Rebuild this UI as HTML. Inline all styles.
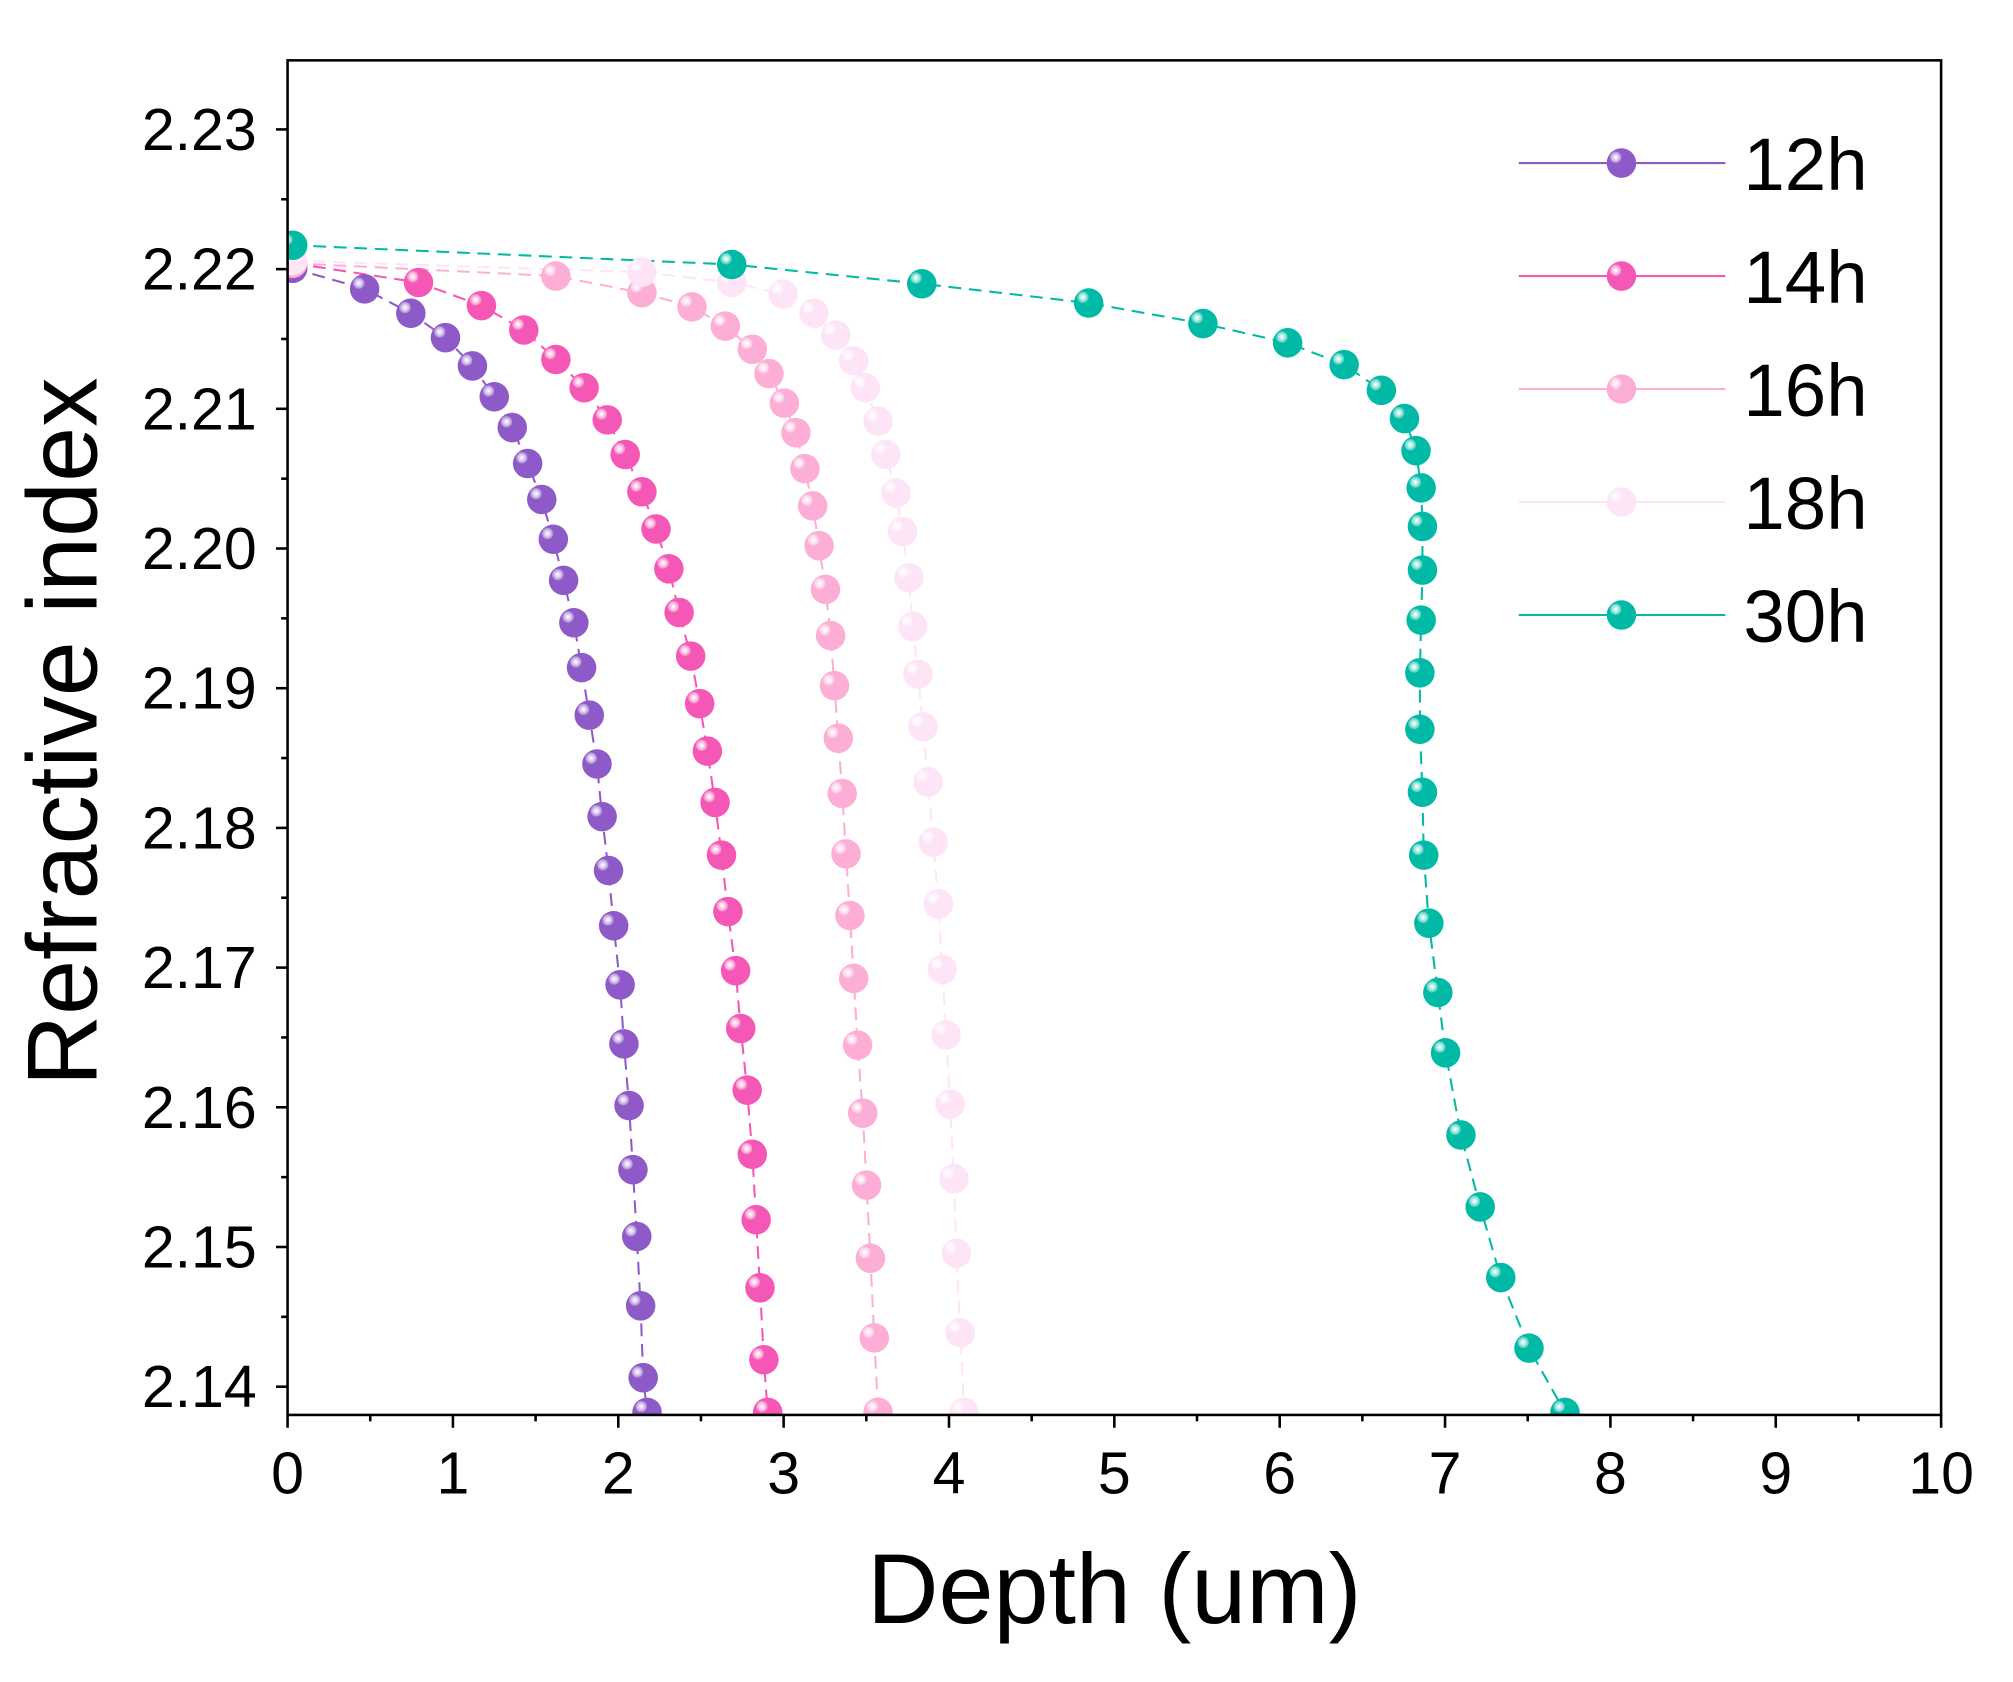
<!DOCTYPE html>
<html><head><meta charset="utf-8"><style>html,body{margin:0;padding:0;background:#fff}svg{display:block}</style></head>
<body>
<svg id="s" width="2013" height="1682" viewBox="0 0 1568 1310" preserveAspectRatio="none" xmlns="http://www.w3.org/2000/svg" font-family="Liberation Sans, sans-serif">
<defs>
<clipPath id="c"><rect x="224" y="47" width="1288" height="1055"/></clipPath>
<radialGradient id="hl"><stop offset="0" stop-color="#fff"/><stop offset="0.5" stop-color="#fff" stop-opacity="0.7"/><stop offset="1" stop-color="#fff" stop-opacity="0.25"/></radialGradient>
</defs>
<rect width="1568" height="1310" fill="#fff"/>
<g id="plot" clip-path="url(#c)"></g>
<rect x="224" y="47" width="1288" height="1055" fill="none" stroke="#000" stroke-width="2"/>
<g id="ax" stroke="#000" stroke-width="2"></g>
<g id="lbl" font-size="46" fill="#000"></g>
<g id="leg"></g>
<text x="868" y="1264" font-size="77" text-anchor="middle">Depth (um)</text>
<text transform="translate(75,570) rotate(-90)" font-size="77" text-anchor="middle">Refractive index</text>
</svg>
<script>
var NS="http://www.w3.org/2000/svg";
function el(p,t,a,txt){var e=document.createElementNS(NS,t);for(var k in a)e.setAttribute(k,a[k]);if(txt!=null)e.textContent=txt;p.appendChild(e);return e;}
var ax=document.getElementById('ax'),lbl=document.getElementById('lbl'),plot=document.getElementById('plot'),leg=document.getElementById('leg');
for(var i=0;i<=20;i++){var x=224+i*128.8/2;el(ax,'line',{x1:x,x2:x,y1:1102,y2:1102+(i%2?5:10)});
 if(i%2==0)el(lbl,'text',{x:x,y:1163,'text-anchor':'middle'},String(i/2));}
for(var v=0;v<=19;v++){var y=1080-v*108.8/2;if(y<47)continue;el(ax,'line',{x1:224,x2:224-(v%2?5:9),y1:y,y2:y});
 if(v%2==0)el(lbl,'text',{x:200,y:y+16,'text-anchor':'end'},'2.'+(14+v/2));}
var S=[
['#8e5ac8',[[228,209],[284,225],[320,244],[347,263],[368,285],[385,309],[399,333],[411,361],[422,389],[431,420],[439,452],[447,485],[453,520],[459,557],[465,595],[469,636],[474,678],[478,721],[483,767],[486,813],[490,861],[493,911],[496,963],[499,1017],[501,1073],[504,1100]]],
['#f457b5',[[228,205],[326,220],[375,238],[408,257],[433,280],[455,302],[473,327],[487,354],[500,383],[511,412],[521,443],[529,477],[538,511],[545,548],[551,585],[557,625],[562,666],[567,710],[573,756],[577,801],[582,849],[586,899],[589,950],[592,1003],[595,1059],[598,1100]]],
['#fdaed6',[[228,205],[433,215],[500,228],[539,239],[565,254],[586,272],[599,291],[611,314],[620,337],[627,365],[633,394],[638,425],[643,459],[647,495],[650,534],[653,575],[656,618],[659,665],[662,713],[665,762],[668,814],[672,867],[675,923],[678,980],[681,1042],[684,1100]]],
['#fde5f7',[[228,203],[500,212],[570,220],[610,229],[634,244],[651,261],[665,281],[674,302],[684,328],[690,354],[698,384],[703,414],[708,450],[711,488],[715,525],[719,566],[723,609],[727,656],[731,704],[734,755],[737,806],[740,860],[743,918],[745,976],[748,1038],[751,1100]]],
['#00baa6',[[228,191],[570,206],[718,221],[848,236],[937,252],[1003,267],[1047,284],[1076,304],[1094,326],[1103,351],[1107,380],[1108,410],[1108,444],[1107,483],[1106,524],[1106,568],[1108,617],[1109,666],[1113,719],[1120,773],[1126,820],[1138,884],[1153,940],[1169,995],[1191,1050],[1219,1100]]]];
var names=['12h','14h','16h','18h','30h'];
function ball(g,x,y,c){el(g,'circle',{cx:x,cy:y,r:11.5,fill:c});el(g,'circle',{cx:x-4.5,cy:y-4.5,r:4.5,fill:'url(#hl)'});}
S.forEach(function(s){el(plot,'polyline',{points:s[1].map(function(p){return p.join(',')}).join(' '),fill:'none',stroke:s[0],'stroke-width':1.6,'stroke-dasharray':'10,6'});});
S.forEach(function(s){s[1].forEach(function(p){ball(plot,p[0],p[1],s[0]);});});
S.forEach(function(s,i){var y=127+i*88;el(leg,'line',{x1:1183,x2:1344,y1:y,y2:y,stroke:s[0],'stroke-width':1.6});ball(leg,1263,y,s[0]);
 el(leg,'text',{x:1358,y:y+21,'font-size':58},names[i]);});
</script>
</body></html>
